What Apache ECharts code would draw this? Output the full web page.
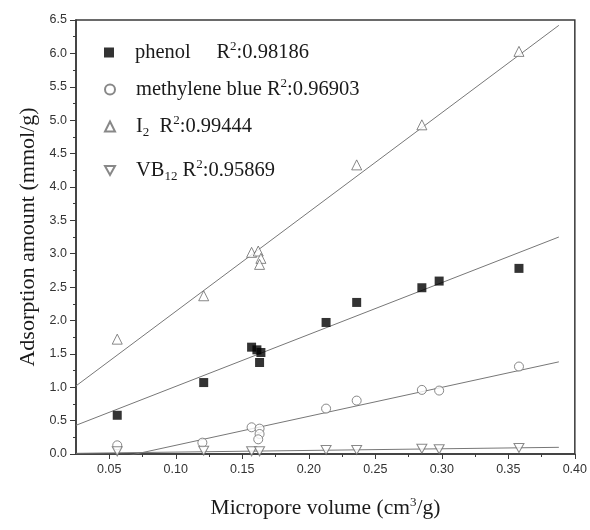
<!DOCTYPE html>
<html>
<head>
<meta charset="utf-8">
<script src="https://cdn.jsdelivr.net/npm/echarts@6/dist/echarts.min.js"></script>
<style>
  html, body { margin: 0; background: #fff; }
  #chart { width: 590px; height: 530px; }
</style>
</head>
<body>
<div id="chart"></div>
<script>
// values
const phenolX = [0.056, 0.121, 0.157, 0.161, 0.164, 0.163, 0.213, 0.236, 0.285, 0.298, 0.358];
const phenolY = [0.58, 1.07, 1.60, 1.56, 1.52, 1.37, 1.97, 2.27, 2.49, 2.59, 2.78];

const mbX = [0.056, 0.120, 0.157, 0.163, 0.163, 0.162, 0.213, 0.236, 0.285, 0.298, 0.358];
const mbY = [0.13, 0.17, 0.40, 0.38, 0.30, 0.22, 0.68, 0.80, 0.96, 0.95, 1.31];

const i2X = [0.056, 0.121, 0.157, 0.162, 0.164, 0.163, 0.236, 0.285, 0.358];
const i2Y = [1.72, 2.37, 3.02, 3.04, 2.93, 2.84, 4.33, 4.93, 6.03];

const vbX = [0.056, 0.121, 0.157, 0.163, 0.213, 0.236, 0.285, 0.298, 0.358];
const vbY = [0.04, 0.05, 0.04, 0.04, 0.06, 0.06, 0.08, 0.07, 0.09];

// linear fits (end values at the left axis and at the line's right end)
const fitX = [0.025, 0.388];
const fitPhenolY = [0.43, 3.25];
const fitMbY = [-0.195, 1.38];
const fitI2Y = [1.02, 6.42];
const fitVbY = [0.01, 0.10];

const xLabels = [0.05, 0.10, 0.15, 0.20, 0.25, 0.30, 0.35, 0.40];
const xMinor = [0.075, 0.125, 0.175, 0.225, 0.275, 0.325, 0.375];

const names = ['phenol', 'methylene blue', 'I2', 'VB12'];
const legendText = {
  'phenol': 'phenol     R{sup|2}:0.98186',
  'methylene blue': 'methylene blue R{sup|2}:0.96903',
  'I2': 'I{sub|2}  R{sup|2}:0.99444',
  'VB12': 'VB{sub|12} R{sup|2}:0.95869'
};
const legendTop = [40, 77, 114, 158];

const zip = (xs, ys) => xs.map((x, i) => [x, ys[i]]);

const serif = '"Liberation Serif", "DejaVu Serif", serif';
const sans = '"Liberation Sans", Arial, sans-serif';
const axisColor = '#3a3a3a';
const openStyle = { color: '#fff', borderColor: '#6a6a6a', borderWidth: 1 };
const invTriangle = 'path://M0,0 L10,0 L5,9 Z';

const chart = echarts.init(document.getElementById('chart'));

function fitSeries(name, ys) {
  return {
    name: name,
    type: 'line',
    data: zip(fitX, ys),
    showSymbol: false,
    symbol: 'none',
    silent: true,
    clip: true,
    lineStyle: { color: '#777', width: 1 },
    z: 1
  };
}

const option = {
  animation: false,
  grid: {
    left: 76, right: 15, top: 20, bottom: 76,
    show: true, borderColor: axisColor, borderWidth: 1.5,
    backgroundColor: 'transparent'
  },
  legend: names.map((n, i) => ({
    data: [n],
    left: 104,
    top: legendTop[i],
    padding: 0,
    itemWidth: 10,
    itemHeight: 10,
    selectedMode: false,
    formatter: name => legendText[name],
    textStyle: {
      fontFamily: serif, fontSize: 20.5, color: '#1a1a1a',
      padding: [0, 0, 0, 16],
      rich: {
        sup: { fontFamily: serif, fontSize: 13, color: '#1a1a1a', padding: [0, 0, 12, 0] },
        sub: { fontFamily: serif, fontSize: 13, color: '#1a1a1a', padding: [13, 0, 0, 0] }
      }
    }
  })),
  xAxis: [
    {
      type: 'value',
      min: 0.025,
      max: 0.40,
      splitLine: { show: false },
      axisLine: { onZero: false, lineStyle: { color: axisColor, width: 1.5 } },
      axisTick: { customValues: xLabels, length: 5, lineStyle: { color: axisColor } },
      axisLabel: {
        customValues: xLabels,
        formatter: v => v.toFixed(2),
        fontFamily: sans, fontSize: 12.5, color: '#333', margin: 9
      },
      name: '{n|Micropore volume (cm}{sup|3}{n|/g)}',
      nameLocation: 'middle',
      nameGap: 42,
      nameTextStyle: {
        rich: {
          n: { fontFamily: serif, fontSize: 21.5, color: '#1a1a1a' },
          sup: { fontFamily: serif, fontSize: 13, color: '#1a1a1a', padding: [0, 0, 12, 0] }
        }
      }
    },
    {
      type: 'value',
      min: 0.025,
      max: 0.40,
      position: 'bottom',
      splitLine: { show: false },
      axisLine: { show: false, onZero: false },
      axisTick: { customValues: xMinor, length: 3, lineStyle: { color: axisColor } },
      axisLabel: { show: false }
    }
  ],
  yAxis: {
    type: 'value',
    min: 0,
    max: 6.5,
    interval: 0.5,
    splitLine: { show: false },
    axisLine: { show: true, lineStyle: { color: axisColor, width: 1.5 } },
    axisTick: { show: true, length: 6, lineStyle: { color: axisColor } },
    minorTick: { show: true, splitNumber: 2, length: 3, lineStyle: { color: axisColor } },
    axisLabel: {
      formatter: v => v.toFixed(1),
      fontFamily: sans, fontSize: 12.5, color: '#333', margin: 9
    },
    name: 'Adsorption amount (mmol/g)',
    nameLocation: 'middle',
    nameGap: 35,
    nameTextStyle: { fontFamily: serif, fontSize: 22, color: '#1a1a1a' }
  },
  series: [
    fitSeries('phenol fit', fitPhenolY),
    fitSeries('methylene blue fit', fitMbY),
    fitSeries('I2 fit', fitI2Y),
    fitSeries('VB12 fit', fitVbY),
    {
      name: 'phenol', type: 'scatter', symbol: 'rect', symbolSize: 9,
      itemStyle: { color: '#000' }, data: zip(phenolX, phenolY), z: 3
    },
    {
      name: 'methylene blue', type: 'scatter', symbol: 'circle', symbolSize: 9,
      itemStyle: openStyle, data: zip(mbX, mbY), z: 3
    },
    {
      name: 'I2', type: 'scatter', symbol: 'triangle', symbolSize: 10,
      itemStyle: openStyle, data: zip(i2X, i2Y), z: 3
    },
    {
      name: 'VB12', type: 'scatter', symbol: invTriangle, symbolSize: [10, 9],
      itemStyle: openStyle, data: zip(vbX, vbY), z: 3
    }
  ]
};

chart.setOption(option);
</script>
</body>
</html>
